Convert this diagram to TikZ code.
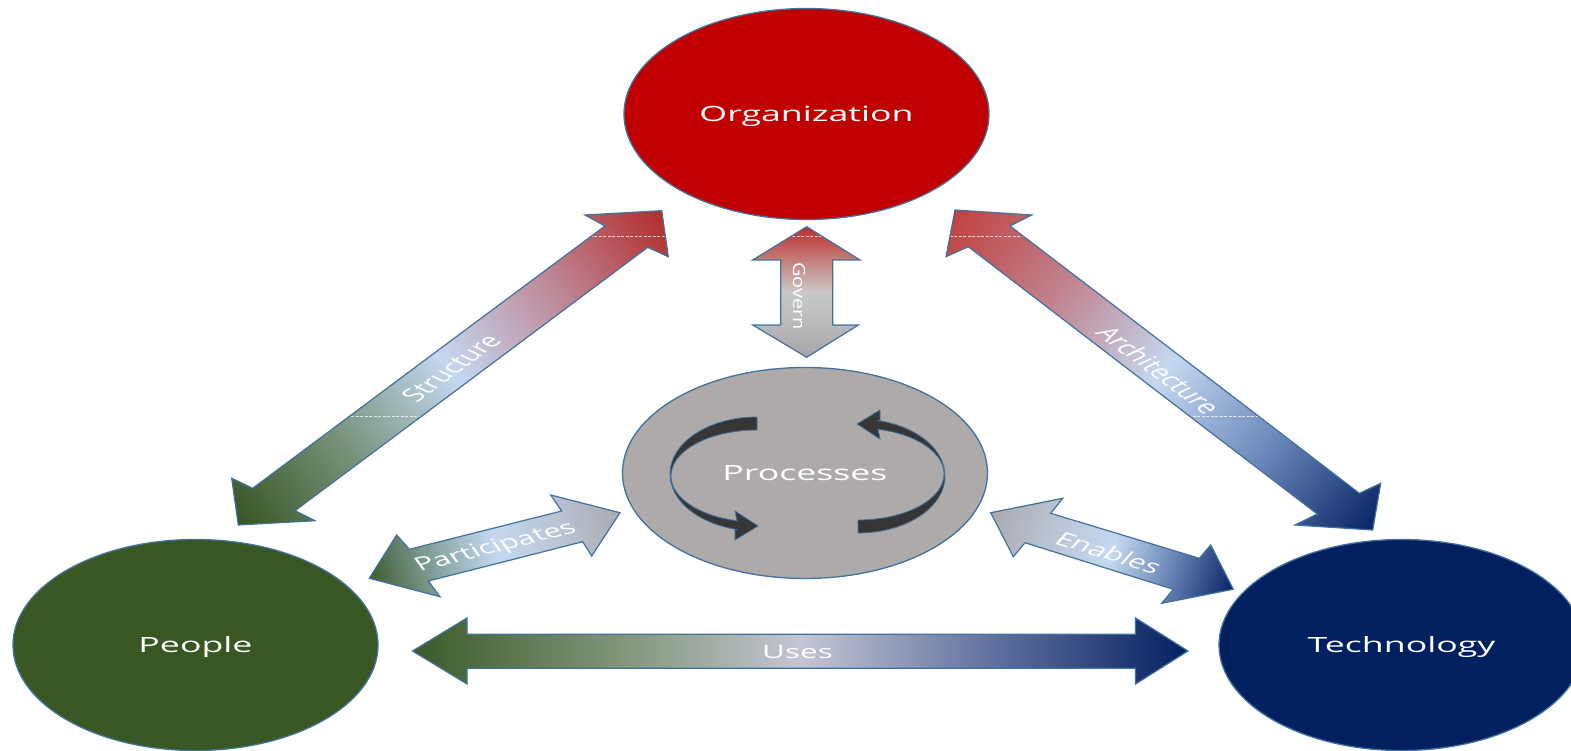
\documentclass[tikz,border=0pt]{standalone}
\usepackage{fontspec}
\setmainfont{Open Sans}
\newfontfamily\wfont[FakeStretch=1.7]{Open Sans}
\usetikzlibrary{shapes.geometric}

\definecolor{bord}{RGB}{65,113,156}
\definecolor{orgred}{RGB}{192,0,0}
\definecolor{pgreen}{RGB}{56,87,35}
\definecolor{tnavy}{RGB}{0,32,96}
\definecolor{pgray}{RGB}{174,170,170}
\definecolor{ribbon}{RGB}{54,54,54}

\definecolor{cSa}{RGB}{55,85,35}
\definecolor{cSb}{RGB}{118,146,122}
\definecolor{cSc}{RGB}{196,216,240}
\definecolor{cSd}{RGB}{190,135,150}
\definecolor{cSe}{RGB}{178,45,42}

\definecolor{cAa}{RGB}{192,66,64}
\definecolor{cAb}{RGB}{192,130,142}
\definecolor{cAc}{RGB}{196,216,240}
\definecolor{cAd}{RGB}{105,135,185}
\definecolor{cAe}{RGB}{8,35,100}

\definecolor{cGa}{RGB}{165,165,168}
\definecolor{cGb}{RGB}{185,185,187}
\definecolor{cGc}{RGB}{202,200,200}
\definecolor{cGd}{RGB}{196,125,122}
\definecolor{cGe}{RGB}{190,45,42}

\definecolor{cPa}{RGB}{62,92,45}
\definecolor{cPb}{RGB}{130,160,155}
\definecolor{cPc}{RGB}{196,216,240}
\definecolor{cPd}{RGB}{186,196,212}
\definecolor{cPe}{RGB}{170,170,176}

\definecolor{cEa}{RGB}{170,170,172}
\definecolor{cEb}{RGB}{186,196,212}
\definecolor{cEc}{RGB}{196,216,240}
\definecolor{cEd}{RGB}{100,130,180}
\definecolor{cEe}{RGB}{8,35,100}

\definecolor{cUa}{RGB}{58,90,42}
\definecolor{cUb}{RGB}{125,145,115}
\definecolor{cUc}{RGB}{195,198,212}
\definecolor{cUd}{RGB}{95,112,158}
\definecolor{cUe}{RGB}{4,32,96}

\newcommand\mkshade[6]{\pgfdeclarehorizontalshading{#1}{100bp}{color(0bp)=(#2); color(25bp)=(#2); color(37.5bp)=(#3); color(50bp)=(#4); color(62.5bp)=(#5); color(75bp)=(#6); color(100bp)=(#6)}}
\mkshade{shStruct}{cSa}{cSb}{cSc}{cSd}{cSe}
\mkshade{shArch}{cAa}{cAb}{cAc}{cAd}{cAe}
\mkshade{shGov}{cGa}{cGb}{cGc}{cGd}{cGe}
\mkshade{shPart}{cPa}{cPb}{cPc}{cPd}{cPe}
\mkshade{shEnab}{cEa}{cEb}{cEc}{cEd}{cEe}
\mkshade{shUses}{cUa}{cUb}{cUc}{cUd}{cUe}

\tikzset{
  blob/.style={ellipse, draw=bord, line width=1.3pt, minimum width=365pt, minimum height=211pt,
    inner sep=0pt, text height=15pt, text depth=0pt, text=white,
    font=\wfont\fontsize{21}{25}\selectfont},
  arrowline/.style={draw=bord, line width=1.2pt, line join=miter},
  lab/.style={text=white, inner sep=0pt, transform shape, font=\fontsize{18.5}{22}\selectfont},
  glitch/.style={white, line width=0.6pt, opacity=0.75, dash pattern=on 3pt off 1.5pt},
}

% #1 polygon, #2 shading, #3 cx, #4 cy, #5 angle, #6 half length, #7 extras
\newcommand\gradarrow[7]{%
  \begin{scope}
    \clip #1;
    \begin{scope}[transform canvas={shift={(#3,#4)},rotate=#5}]
      \shade[shading=#2] (-#6,-120) rectangle (#6,120);
    \end{scope}
    #7
  \end{scope}
  \draw[arrowline] #1;
}

\begin{document}
\begin{tikzpicture}[x=1pt, y=-1pt]
\useasboundingbox (0,0) rectangle (1571,751);

% main ellipses
\node[blob, fill=orgred] (org) at (806.5,114) {Organization};
\node[blob, fill=pgray] (proc) at (805,473) {Processes};
\node[blob, fill=pgreen] (ppl) at (195.5,645) {People};
\node[blob, fill=tnavy] (tech) at (1401.5,645) {Technology};

% circular arrows inside Processes
\filldraw[fill=ribbon, draw=bord, line width=0.8pt]
  plot[domain=270:103.3, samples=60] ({757+87*cos(\x)},{474+57*sin(\x)})
  -- (735,529.5) -- (735,540) -- (758,526) -- (735,511) -- (737,520.8)
  -- plot[domain=103.4:270, samples=60] ({757+86*cos(\x)},{476+46*sin(\x)}) -- cycle;
\begin{scope}[rotate around={180:(807.5,475)}]
\filldraw[fill=ribbon, draw=bord, line width=0.8pt]
  plot[domain=270:103.3, samples=60] ({757+87*cos(\x)},{474+57*sin(\x)})
  -- (735,529.5) -- (735,540) -- (758,526) -- (735,511) -- (737,520.8)
  -- plot[domain=103.4:270, samples=60] ({757+86*cos(\x)},{476+46*sin(\x)}) -- cycle;
\end{scope}

% Structure
\gradarrow{(238.3,525) -- (231.7,478.3) -- (252.7,488.3) -- (605,226) -- (585,215) -- (661.7,210.7) -- (668.3,256.7) -- (647.7,247.3) -- (295,510.7) -- (315,520.7) -- cycle}
  {shStruct}{450}{367.85}{36.59}{263.7}
  {\draw[glitch] (0,236) -- (1571,236); \draw[glitch] (0,416) -- (1571,416);}
% Architecture
\gradarrow{(955,210) -- (1031.7,215) -- (1010,226) -- (1359.3,493.3) -- (1380.7,483.3) -- (1372.7,530) -- (1295,525) -- (1317.3,514) -- (968.3,246.7) -- (946,256.7) -- cycle}
  {shArch}{1163.85}{370}{-37.46}{263.1}
  {\draw[glitch] (0,236) -- (1571,236); \draw[glitch] (0,416) -- (1571,416);}
% Govern
\gradarrow{(806.7,226.7) -- (860,260) -- (832.7,260) -- (832.7,325) -- (858.3,325) -- (806.7,357.3) -- (752.7,325) -- (780.7,325) -- (780.7,260) -- (752.7,260) -- cycle}
  {shGov}{806.7}{292}{90}{65.3}
  {\draw[glitch] (0,236) -- (1571,236);}
% Participates
\gradarrow{(369.3,578.3) -- (396.7,535) -- (409.3,549.3) -- (561.7,511) -- (550.7,495) -- (620,512.7) -- (591.7,556) -- (582.7,541.7) -- (428.3,581) -- (440,596.7) -- cycle}
  {shPart}{494.7}{545.5}{14.67}{129.6}{}
% Enables
\gradarrow{(990.7,512.7) -- (1062.7,498.3) -- (1050.7,513.3) -- (1199.3,558.3) -- (1210.7,545) -- (1233.3,589.3) -- (1161.7,603.3) -- (1173.3,589.3) -- (1025,542.7) -- (1013.3,556.7) -- cycle}
  {shEnab}{1112}{551}{-17.52}{127.2}{}
% Uses
\gradarrow{(412.5,651) -- (467,618) -- (467,634.3) -- (1135.5,634.3) -- (1135.5,618) -- (1188,651) -- (1135.5,684) -- (1135.5,668.3) -- (467,668.3) -- (467,684) -- cycle}
  {shUses}{800.25}{651}{0}{387.75}{}

% labels
\begin{scope}[shift={(451,368)}, xscale=1.7, rotate=50.7]
  \node[lab] (lstruct) {Structure};
\end{scope}
\begin{scope}[shift={(1159,370)}, xscale=1.7, rotate=-51.6]
  \node[lab] (larch) {Architecture};
\end{scope}
\begin{scope}[shift={(496,547.5)}, xscale=1.7, rotate=23.1]
  \node[lab] (lpart) {Participates};
\end{scope}
\begin{scope}[shift={(1109,552.5)}, xscale=1.7, rotate=-27.5]
  \node[lab] (lenab) {Enables};
\end{scope}
\begin{scope}[shift={(797.5,652)}, xscale=1.7]
  \node[lab] (luses) {Uses};
\end{scope}
\begin{scope}[shift={(799,296)}, xscale=1.05, yscale=1.25, rotate=-90]
  \node[lab, font=\fontsize{16}{19}\selectfont] (lgov) {Govern};
\end{scope}
\end{tikzpicture}
\end{document}
